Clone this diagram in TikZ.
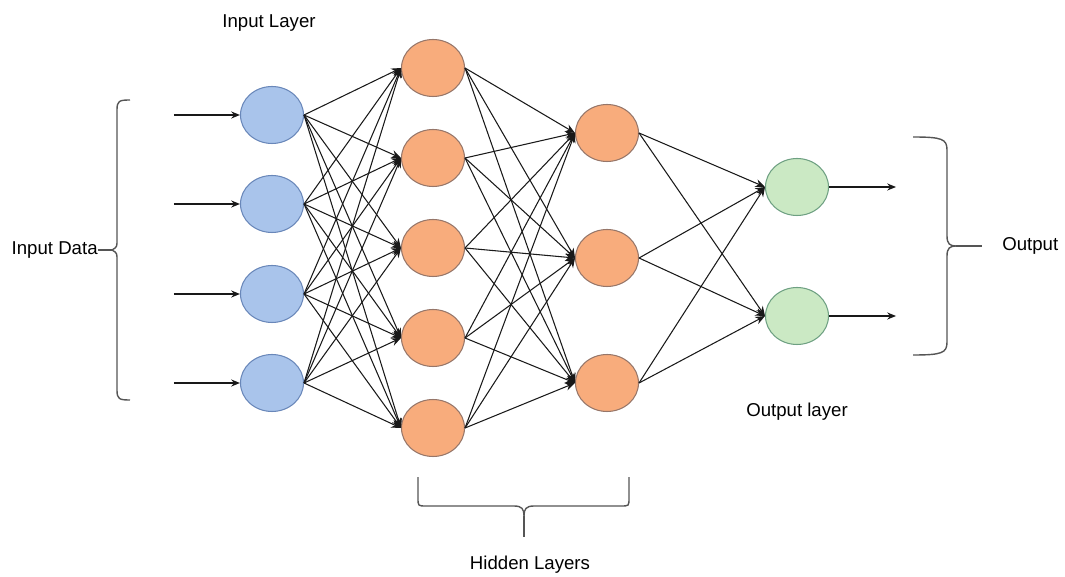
\documentclass[tikz,border=0pt]{standalone}
\usepackage{fontspec}
\setmainfont{Liberation Sans}
\usetikzlibrary{shapes.geometric,arrows.meta,calc}

\definecolor{inblue}{RGB}{169,196,235}
\definecolor{inblueline}{RGB}{105,135,185}
\definecolor{hidorange}{RGB}{248,172,124}
\definecolor{hidorangeline}{RGB}{150,118,105}
\definecolor{outgreen}{RGB}{203,233,196}
\definecolor{outgreenline}{RGB}{110,160,130}
\definecolor{bracegray}{RGB}{85,85,85}

\begin{document}
\begin{tikzpicture}[x=0.02cm,y=-0.02cm,
  neuron/.style={ellipse,draw,line width=0.6pt,minimum width=1.26cm,minimum height=1.14cm,inner sep=0pt},
  inneuron/.style={neuron,fill=inblue,draw=inblueline},
  hidneuron/.style={neuron,fill=hidorange,draw=hidorangeline},
  outneuron/.style={neuron,fill=outgreen,draw=outgreenline},
  link/.style={line width=0.6pt,color=black!90,-{Stealth[length=5.5pt,width=4.5pt]}},
  feed/.style={line width=1.1pt,color=black!90,-{Stealth[length=5pt,width=4pt]}},
  brace/.style={line width=0.8pt,color=bracegray},
  lbl/.style={font=\fontsize{10.6}{12}\selectfont,inner sep=0pt}]
  \useasboundingbox (0,0) rectangle (1065,577);

  % layers
  \foreach \y [count=\k] in {115,204,294,383}
    \node [inneuron] (i\k) at (272,\y) {};
  \foreach \y [count=\k] in {68,158,248,338,428}
    \node [hidneuron] (ha\k) at (433,\y) {};
  \foreach \y [count=\k] in {133,258,383}
    \node [hidneuron] (hb\k) at (607,\y) {};
  \foreach \y [count=\k] in {187,316}
    \node [outneuron] (o\k) at (797,\y) {};

  % weights
  \foreach \a in {1,...,4}
    \foreach \b in {1,...,5}
      \draw [link] (i\a.east) -- (ha\b.west);
  \foreach \a in {1,...,5}
    \foreach \b in {1,2,3}
      \draw [link] (ha\a.east) -- (hb\b.west);
  \foreach \a in {1,2,3}
    \foreach \b in {1,2}
      \draw [link] (hb\a.east) -- (o\b.west);

  % inputs and outputs
  \foreach \k in {1,...,4} {
    \coordinate (s\k) at ($(i\k.west)+(-66,0)$);
    \draw [feed] (s\k) -- (i\k.west);
  }
  \foreach \k in {1,2} {
    \coordinate (e\k) at ($(o\k.east)+(67,0)$);
    \draw [feed] (o\k.east) -- (e\k);
  }

  % braces
  \coordinate (lb) at (112,250);
  \draw [brace] (130,100) .. controls (119,100) and (117,101) .. (117,110) -- (117,240)
    .. controls (117,247) .. (lb) .. controls (117,253) .. (117,260) -- (117,390)
    .. controls (117,399) and (119,400) .. (130,400);
  \draw [brace] (913,137) .. controls (942,137) and (947,139) .. (947,150) -- (947,236)
    .. controls (947,244) and (950,246) .. (956,246) .. controls (950,246) and (947,248) .. (947,256)
    -- (947,342) .. controls (947,353) and (942,355) .. (913,355);
  \draw [brace] (956,246) -- (982,246);
  \draw [brace] (418,477) -- (418,498) .. controls (418,506) .. (426,506) -- (514,506)
    .. controls (522,506) and (524,509) .. (524,516) .. controls (524,509) and (526,506) .. (534,506)
    -- (621,506) .. controls (629,506) .. (629,498) -- (629,477);
  \draw [brace] (524,516) -- (524,537);

  % labels
  \node [lbl] (inlayer) at (269,23) {Input Layer};
  \node [lbl,anchor=east] (indata) at (98,250) {Input Data};
  \draw [brace] (indata.east) -- (lb);
  \node [lbl] (hidden) at (530,565) {Hidden Layers};
  \node [lbl] (outlayer) at (797,412) {Output layer};
  \node [lbl,anchor=west] (output) at (1002,246) {Output};
\end{tikzpicture}
\end{document}
